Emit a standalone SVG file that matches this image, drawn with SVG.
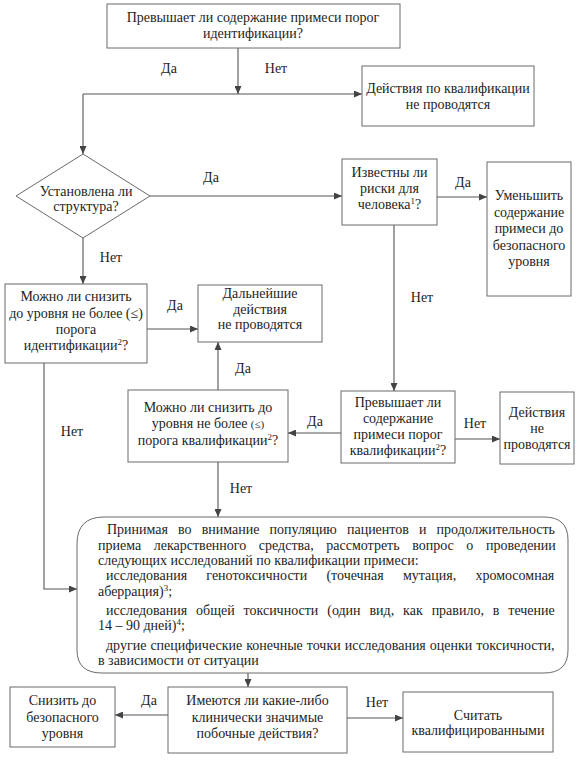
<svg xmlns="http://www.w3.org/2000/svg" width="578" height="760" viewBox="0 0 578 760">
<style>
text{font-family:"Liberation Serif","Times New Roman",serif;font-size:14px;fill:#1e1e1e}
.c{text-anchor:middle}
.box{fill:#fff;stroke:#6a6a6a;stroke-width:1}
.ln{fill:none;stroke:#555;stroke-width:1.1}
.sup{font-size:9px}
.sm{font-size:11px}
</style>
<defs>
<marker id="ah" markerUnits="userSpaceOnUse" markerWidth="9" markerHeight="7" refX="8" refY="3.5" orient="auto">
<path d="M0,0 L8,3.5 L0,7 z" fill="#444"/>
</marker>
</defs>
<rect width="578" height="760" fill="#fff"/>

<g id="connectors">
<path class="ln" d="M238,48 V94" marker-end="url(#ah)"/>
<path class="ln" d="M83,94 H362" marker-end="url(#ah)"/>
<path class="ln" d="M83,94 V154" marker-end="url(#ah)"/>
<path class="ln" d="M150,196 H342" marker-end="url(#ah)"/>
<path class="ln" d="M437,197 H487" marker-end="url(#ah)"/>
<path class="ln" d="M394,225 V391" marker-end="url(#ah)"/>
<path class="ln" d="M83,238 V284" marker-end="url(#ah)"/>
<path class="ln" d="M147,329 H198" marker-end="url(#ah)"/>
<path class="ln" d="M218,390 V342" marker-end="url(#ah)"/>
<path class="ln" d="M341,433 H288" marker-end="url(#ah)"/>
<path class="ln" d="M455,439 H500" marker-end="url(#ah)"/>
<path class="ln" d="M218,462 V517" marker-end="url(#ah)"/>
<path class="ln" d="M44,363 V589 H77" marker-end="url(#ah)"/>
<path class="ln" d="M248,673 V687" marker-end="url(#ah)"/>
<path class="ln" d="M168,715 H115" marker-end="url(#ah)"/>
<path class="ln" d="M347,718 H403" marker-end="url(#ah)"/>
<text class="c" x="169" y="73">Да</text>
<text class="c" x="276" y="73">Нет</text>
<text class="c" x="211" y="182">Да</text>
<text class="c" x="463" y="187">Да</text>
<text class="c" x="111" y="262">Нет</text>
<text class="c" x="175" y="310">Да</text>
<text class="c" x="422" y="302">Нет</text>
<text class="c" x="243" y="373">Да</text>
<text class="c" x="72" y="436">Нет</text>
<text class="c" x="315" y="426">Да</text>
<text class="c" x="475" y="428">Нет</text>
<text class="c" x="241" y="493">Нет</text>
<text class="c" x="149" y="705">Да</text>
<text class="c" x="377" y="707">Нет</text>
</g>

<g id="n_threshold_id">
<rect class="box" x="107" y="4" width="293" height="44"/>
<text class="c" x="253" y="22">Превышает ли содержание примеси порог</text>
<text class="c" x="253" y="38">идентификации?</text>
</g>

<g id="n_no_qual">
<rect class="box" x="362" y="66" width="172" height="60"/>
<text class="c" x="448" y="93">Действия по квалификации</text>
<text class="c" x="448" y="109">не проводятся</text>
</g>

<g id="n_structure">
<polygon class="box" points="83,154 150,196 83,238 16,196"/>
<text class="c" x="86" y="196">Установлена ли</text>
<text class="c" x="86" y="211">структура?</text>
</g>

<g id="n_risks">
<rect class="box" x="342" y="159" width="95" height="66"/>
<text class="c" x="389.5" y="177">Известны ли</text>
<text class="c" x="389.5" y="193">риски для</text>
<text class="c" x="389.5" y="209">человека<tspan class="sup" dy="-5">1</tspan><tspan dy="5">?</tspan></text>
</g>

<g id="n_reduce">
<rect class="box" x="487" y="162" width="84" height="134"/>
<text class="c" x="529" y="200">Уменьшить</text>
<text class="c" x="529" y="216.5">содержание</text>
<text class="c" x="529" y="233">примеси до</text>
<text class="c" x="529" y="249.5">безопасного</text>
<text class="c" x="529" y="266">уровня</text>
</g>

<g id="n_lower_id">
<rect class="box" x="5" y="284" width="142" height="79"/>
<text class="c" x="76" y="301">Можно ли снизить</text>
<text class="c" x="76" y="318">до уровня не более (≤)</text>
<text class="c" x="76" y="334">порога</text>
<text class="c" x="76" y="350">идентификации<tspan class="sup" dy="-5">2</tspan><tspan dy="5">?</tspan></text>
</g>

<g id="n_no_further">
<rect class="box" x="198" y="285" width="124" height="57"/>
<text class="c" x="260" y="298">Дальнейшие</text>
<text class="c" x="260" y="314">действия</text>
<text class="c" x="260" y="329">не проводятся</text>
</g>

<g id="n_lower_qual">
<rect class="box" x="128" y="390" width="160" height="72"/>
<text class="c" x="208" y="412">Можно ли снизить до</text>
<text class="c" x="208" y="428">уровня не более <tspan class="sm">(≤)</tspan></text>
<text class="c" x="208" y="445">порога квалификации<tspan class="sup" dy="-5">2</tspan><tspan dy="5">?</tspan></text>
</g>

<g id="n_threshold_qual">
<rect class="box" x="341" y="391" width="114" height="72"/>
<text class="c" x="398" y="407">Превышает ли</text>
<text class="c" x="398" y="423">содержание</text>
<text class="c" x="398" y="439">примеси порог</text>
<text class="c" x="398" y="455">квалификации<tspan class="sup" dy="-5">2</tspan><tspan dy="5">?</tspan></text>
</g>

<g id="n_no_actions">
<rect class="box" x="500" y="392" width="74" height="72"/>
<text class="c" x="537" y="417">Действия</text>
<text class="c" x="537" y="433">не</text>
<text class="c" x="537" y="449">проводятся</text>
</g>

<g id="n_studies">
<path class="box" d="M104,517 H544 Q568,517 568,540 V650 Q568,673 544,673 H102 Q77,673 77,650 V544 Q77,517 104,517 Z"/>
<text x="107" y="534" word-spacing="6.6">Принимая во внимание популяцию пациентов и продолжительность</text>
<text x="98" y="550" word-spacing="9.1">приема лекарственного средства, рассмотреть вопрос о проведении</text>
<text x="98" y="565">следующих исследований по квалификации примеси:</text>
<text x="106" y="580" word-spacing="15.7">исследования генотоксичности (точечная мутация, хромосомная</text>
<text x="98" y="596">аберрация)<tspan class="sup" dy="-5">3</tspan><tspan dy="5">;</tspan></text>
<text x="106" y="615" word-spacing="5.4">исследования общей токсичности (один вид, как правило, в течение</text>
<text x="98" y="630">14 – 90 дней)<tspan class="sup" dy="-5">4</tspan><tspan dy="5">;</tspan></text>
<text x="106" y="650" word-spacing="0.5">другие специфические конечные точки исследования оценки токсичности,</text>
<text x="98" y="665">в зависимости от ситуации</text>
</g>

<g id="n_side_effects">
<rect class="box" x="168" y="687" width="179" height="66"/>
<text class="c" x="257.5" y="705">Имеются ли какие-либо</text>
<text class="c" x="257.5" y="722">клинически значимые</text>
<text class="c" x="257.5" y="738">побочные действия?</text>
</g>

<g id="n_lower_safe">
<rect class="box" x="10" y="687" width="105" height="60"/>
<text class="c" x="62.5" y="705">Снизить до</text>
<text class="c" x="62.5" y="722">безопасного</text>
<text class="c" x="62.5" y="738">уровня</text>
</g>

<g id="n_qualified">
<rect class="box" x="403" y="692" width="150" height="60"/>
<text class="c" x="478" y="720">Считать</text>
<text class="c" x="478" y="735">квалифицированными</text>
</g>
</svg>
